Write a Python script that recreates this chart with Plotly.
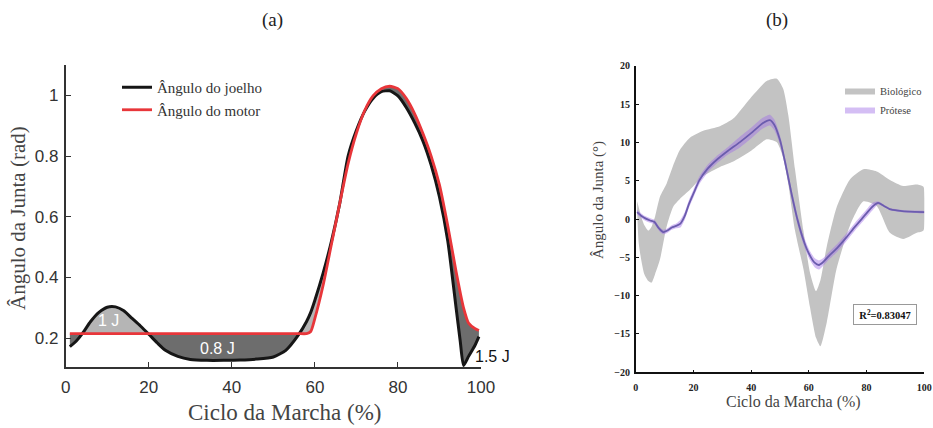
import numpy as np
import plotly.graph_objects as go

# ---------------- Panel (a) data ----------------
gait_a = [1, 2.5, 4, 6, 8, 10, 12, 14, 16, 18, 20, 22, 24, 27, 30, 34, 38, 42, 46, 50,
          53, 56, 58, 59, 60, 62, 64, 66, 68, 70, 72, 74, 76, 78, 80, 82, 84, 86, 88,
          90, 92, 94, 95, 95.8, 97, 98.5, 99.5]
knee_angle = [0.172, 0.19, 0.215, 0.255, 0.285, 0.302, 0.303, 0.29, 0.265, 0.24, 0.213,
              0.185, 0.16, 0.14, 0.13, 0.127, 0.127, 0.128, 0.131, 0.138, 0.16, 0.21,
              0.255, 0.285, 0.325, 0.415, 0.52, 0.645, 0.8, 0.885, 0.948, 0.99, 1.012,
              1.015, 0.998, 0.96, 0.91, 0.85, 0.77, 0.665, 0.52, 0.3, 0.19, 0.11, 0.14,
              0.175, 0.205]
motor_angle = [0.215, 0.215, 0.215, 0.215, 0.215, 0.215, 0.215, 0.215, 0.215, 0.215, 0.215,
               0.215, 0.215, 0.215, 0.215, 0.215, 0.215, 0.215, 0.215, 0.215, 0.215, 0.215,
               0.215, 0.222, 0.265, 0.375, 0.51, 0.645, 0.775, 0.875, 0.95, 0.998, 1.022,
               1.03, 1.022, 0.99, 0.94, 0.875, 0.8, 0.705, 0.57, 0.42, 0.35, 0.3, 0.25,
               0.232, 0.225]
a_xticks = [0, 20, 40, 60, 80, 100]
a_yticks = [0.2, 0.4, 0.6, 0.8, 1.0]
a_yticklabels = ["0.2", "0.4", "0.6", "0.8", "1"]
energy_labels = ["1 J", "0.8 J"]
energy_x = [10.4, 36.5]
energy_y = [0.259, 0.166]
end_energy_label = "1.5 J"

# ---------------- Panel (b) data ----------------
bio_x = [0.5, 1, 2, 3, 4.4, 5.5, 6.7, 8.4, 10.7, 13, 15.3, 18.8, 23.4, 29.2, 33.8, 39.6,
         45.4, 48.9, 51.1, 52.9, 55.2, 58.1, 60.4, 62.5, 64, 66.2, 69.6, 74.3, 78.9,
         83.5, 88.1, 92.7, 97.4, 99.7]
bio_upper = [2.3, 1.6, 0.2, -0.8, -1.5, -1.0, 0.3, 2.9, 4.6, 7.0, 9.0, 10.6, 11.5, 12.1,
             13.1, 15.7, 18.0, 18.3, 17.0, 13.5, 6.5, -1.5, -7.0, -9.4, -8.0, -3.6, 1.5,
             5.2, 6.5, 6.2, 5.1, 4.3, 4.5, 4.2]
bio_lower = [1.0, -3.0, -5.5, -7.2, -8.1, -8.3, -7.2, -5.3, -1.0, 1.6, 2.6, 3.8, 5.6, 6.8,
             7.5, 8.8, 10.4, 10.0, 8.0, 4.5, -1.5, -6.5, -11.5, -15.5, -16.6, -13.5, -6.5,
             -0.8, 2.3, 1.7, -1.8, -2.6, -1.8, -1.5]

pros_x = [0.5, 2, 3.5, 5, 6.5, 8, 9.5, 11, 12.5, 14, 15.5, 17, 18.5, 20, 22, 25, 28, 32,
          36, 40, 44, 46.5, 48, 50, 52, 54, 56, 58, 60, 62, 63.5, 65, 67, 70, 73, 76, 79,
          82, 84, 86, 88, 91, 95, 100]
pros_mean = [0.9, 0.4, 0.05, -0.2, -0.4, -1.2, -1.7, -1.5, -1.1, -0.9, -0.6, 0.4, 2.0,
             3.3, 5.0, 6.6, 7.7, 8.9, 10.0, 11.2, 12.5, 12.9, 12.3, 10.3, 7.0, 3.3, 0.0,
             -2.6, -4.5, -5.7, -6.0, -5.6, -4.8, -3.7, -2.4, -1.0, 0.3, 1.6, 2.1, 1.7,
             1.3, 1.1, 0.95, 0.9]
pros_upper = [1.2, 0.7, 0.35, 0.1, -0.1, -0.9, -1.4, -1.2, -0.8, -0.6, -0.1, 0.9, 2.5,
              3.8, 5.5, 7.1, 8.2, 9.4, 10.7, 11.9, 13.2, 13.6, 13.0, 10.9, 7.6, 3.9, 0.6,
              -2.0, -3.9, -5.1, -5.4, -5.1, -4.3, -3.2, -1.9, -0.5, 0.8, 2.1, 2.3, 1.85,
              1.45, 1.25, 1.1, 1.05]
pros_lower = [0.6, 0.1, -0.25, -0.5, -0.7, -1.5, -2.0, -1.8, -1.4, -1.2, -1.1, -0.1, 1.5,
              2.8, 4.5, 6.1, 7.2, 8.4, 9.3, 10.5, 11.8, 12.2, 11.6, 9.7, 6.4, 2.7, -0.6,
              -3.2, -5.1, -6.3, -6.6, -6.1, -5.3, -4.2, -2.9, -1.5, -0.2, 1.1, 1.9, 1.55,
              1.15, 0.95, 0.8, 0.75]
b_xticks = [0, 20, 40, 60, 80, 100]
b_yticks = [-20, -15, -10, -5, 0, 5, 10, 15, 20]
r2_text = "R<sup>2</sup>=0.83047"

SERIF = "Liberation Serif, Times New Roman, serif"
SANS = "Liberation Sans, Arial, sans-serif"

W, H = 933, 428


def px(x):
    return x / W


def py(y):
    return 1 - y / H


fig = go.Figure()

knee = np.array(knee_angle)
motor = np.array(motor_angle)
spl = dict(shape="spline", smoothing=0.6)

# fills between the curves (panel a)
fig.add_trace(go.Scatter(x=gait_a, y=motor, mode="lines", line=dict(width=0, **spl),
                         showlegend=False, hoverinfo="skip", xaxis="x", yaxis="y"))
fig.add_trace(go.Scatter(x=gait_a, y=np.maximum(knee, motor), mode="lines", fill="tonexty",
                         fillcolor="#b5b5b5", line=dict(width=0, **spl),
                         showlegend=False, hoverinfo="skip", xaxis="x", yaxis="y"))
fig.add_trace(go.Scatter(x=gait_a, y=motor, mode="lines", line=dict(width=0, **spl),
                         showlegend=False, hoverinfo="skip", xaxis="x", yaxis="y"))
fig.add_trace(go.Scatter(x=gait_a, y=np.minimum(knee, motor), mode="lines", fill="tonexty",
                         fillcolor="#6d6d6d", line=dict(width=0, **spl),
                         showlegend=False, hoverinfo="skip", xaxis="x", yaxis="y"))
fig.add_trace(go.Scatter(x=gait_a, y=knee_angle, mode="lines", name="Ângulo do joelho",
                         line=dict(color="#161616", width=3, **spl),
                         xaxis="x", yaxis="y", legend="legend"))
fig.add_trace(go.Scatter(x=gait_a, y=motor_angle, mode="lines", name="Ângulo do motor",
                         line=dict(color="#e8363a", width=2.8, **spl),
                         xaxis="x", yaxis="y", legend="legend"))

# panel b
fig.add_trace(go.Scatter(x=bio_x + bio_x[::-1], y=bio_upper + bio_lower[::-1], mode="lines",
                         fill="toself", fillcolor="#c3c3c3", line=dict(width=0, **spl),
                         name="Biológico", xaxis="x2", yaxis="y2", legend="legend2", hoverinfo="skip"))
fig.add_trace(go.Scatter(x=pros_x + pros_x[::-1], y=pros_upper + pros_lower[::-1], mode="lines",
                         fill="toself", fillcolor="rgba(160,110,230,0.45)",
                         line=dict(width=0, **spl),
                         name="Prótese", xaxis="x2", yaxis="y2", legend="legend2", hoverinfo="skip"))
fig.add_trace(go.Scatter(x=pros_x, y=pros_mean, mode="lines", showlegend=False,
                         line=dict(color="#6b5cae", width=1.8, **spl),
                         xaxis="x2", yaxis="y2"))

axis_a = dict(showline=True, linecolor="#333333", linewidth=1.6, ticks="inside", ticklen=5,
              tickcolor="#333333", tickwidth=1.3, showgrid=False, zeroline=False, automargin=False,
              ticklabeloverflow="allow",
              tickfont=dict(family=SANS, size=17, color="#333333"))
axis_b = dict(showline=True, linecolor="#111111", linewidth=1.6, ticks="inside", ticklen=3,
              tickcolor="#111111", tickwidth=1.2, showgrid=False, zeroline=False, automargin=False,
              ticklabeloverflow="allow",
              tickfont=dict(family=SERIF, size=10, color="#222222", weight="bold"))

fig.update_layout(
    template="none",
    width=W, height=H, margin=dict(l=0, r=0, t=0, b=0, autoexpand=False),
    paper_bgcolor="white", plot_bgcolor="white",
    xaxis=dict(axis_a, domain=[px(65.7), px(481)], range=[0, 100], tickvals=a_xticks,
               anchor="y", ticklabelstandoff=4),
    yaxis=dict(axis_a, domain=[py(367), py(65)], range=[0.105, 1.1], tickvals=a_yticks,
               ticktext=a_yticklabels, anchor="x", ticklabelstandoff=2),
    xaxis2=dict(axis_b, domain=[px(635.7), px(924.3)], range=[0, 100], tickvals=b_xticks,
                anchor="y2", ticklabelstandoff=5),
    yaxis2=dict(axis_b, domain=[py(372.3), py(65.7)], range=[-20, 20], tickvals=b_yticks,
                anchor="x2", ticklabelstandoff=2),
    legend=dict(x=px(117), y=py(71), xanchor="left", yanchor="top", traceorder="normal",
                bgcolor="rgba(0,0,0,0)", font=dict(family=SERIF, size=15, color="#333333")),
    legend2=dict(x=px(840), y=py(76), xanchor="left", yanchor="top", traceorder="normal",
                 bgcolor="rgba(0,0,0,0)", font=dict(family=SERIF, size=10.5, color="#444444")),
    showlegend=True,
)

C = dict(xanchor="center", yanchor="middle", showarrow=False)
annotations = [
    dict(C, text="(a)", x=px(272), y=py(20), xref="paper", yref="paper",
         font=dict(family=SERIF, size=19, color="#222222")),
    dict(C, text="(b)", x=px(777), y=py(20), xref="paper", yref="paper",
         font=dict(family=SERIF, size=19, color="#222222")),
    dict(C, text="Ciclo da Marcha (%)", x=px(285), y=py(412), xref="paper", yref="paper",
         font=dict(family=SERIF, size=23, color="#444444")),
    dict(C, text="Ângulo da Junta (rad)", x=px(18), y=py(218), xref="paper", yref="paper",
         textangle=-90, font=dict(family=SERIF, size=21, color="#444444")),
    dict(C, text="Ciclo da Marcha (%)", x=px(793), y=py(402), xref="paper", yref="paper",
         font=dict(family=SERIF, size=16, color="#444444")),
    dict(C, text="Ângulo da Junta (°)", x=px(598), y=py(200), xref="paper", yref="paper",
         textangle=-90, font=dict(family=SERIF, size=15, color="#444444")),
    dict(C, text="<b>" + r2_text + "</b>", x=86.3, y=-12.5, xref="x2", yref="y2",
         bordercolor="#999999", borderwidth=1, borderpad=2, bgcolor="white", width=58, height=15,
         font=dict(family=SERIF, size=10.5, color="#111111")),
    dict(C, text=end_energy_label, x=px(492.5), y=py(356), xref="paper", yref="paper",
         font=dict(family=SANS, size=16, color="#111111")),
]
for lab, ex, ey in zip(energy_labels, energy_x, energy_y):
    annotations.append(dict(C, text=lab, x=ex, y=ey, xref="x", yref="y",
                            font=dict(family=SANS, size=16, color="white")))
fig.update_layout(annotations=annotations)

# remove the default page margin so the 933x428 figure fills the window exactly
fig.write_html("out.html", config={"displayModeBar": False},
               post_script="document.body.style.margin='0';document.body.style.overflow='hidden';")
